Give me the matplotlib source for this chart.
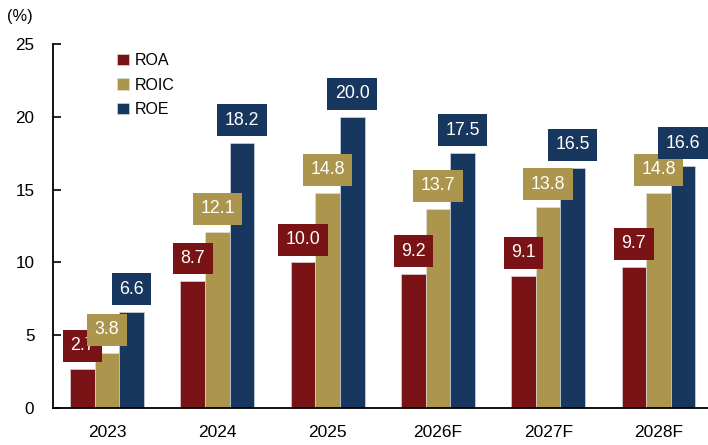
import matplotlib
matplotlib.use("Agg")
import matplotlib.pyplot as plt
import numpy as np

plt.rcParams['font.family'] = ['Liberation Sans', 'DejaVu Sans']

years = ["2023", "2024", "2025", "2026F", "2027F", "2028F"]
roa = [2.7, 8.7, 10.0, 9.2, 9.1, 9.7]
roic = [3.8, 12.1, 14.8, 13.7, 13.8, 14.8]
roe = [6.6, 18.2, 20.0, 17.5, 16.5, 16.6]
series_names = ["ROA", "ROIC", "ROE"]
colors = ["#7A1315", "#AC954D", "#17375E"]

fig = plt.figure(figsize=(7.08, 4.45), dpi=100)
ax = fig.add_axes([0.075, 0.083, 0.925, 0.818])

x = np.arange(len(years))
w = 0.223
for i, (vals, name, c) in enumerate(zip([roa, roic, roe], series_names, colors)):
    pos = x + (i - 1) * w
    ax.bar(pos, vals, width=w, color=c, label=name, edgecolor='#dfe3ea', linewidth=0.4)
    for px, v in zip(pos, vals):
        ax.annotate(f"{v:.1f}", (px, v), xytext=(0, 16.5), textcoords='offset points',
                    ha='center', va='center', color='white', fontsize=12.8,
                    bbox=dict(boxstyle='square,pad=0.42', fc=c, ec='none'))

ax.set_xlim(-0.49, 5.45)
ax.set_ylim(0, 25)
ax.set_yticks([0, 5, 10, 15, 20, 25])
ax.set_xticks(x)
ax.set_xticklabels(years)
ax.tick_params(axis='y', direction='in', length=6, width=1.2, pad=13.5, labelsize=12.3)
ax.tick_params(axis='x', length=0, pad=12.5, labelsize=12.5)
for s in ['top', 'right']:
    ax.spines[s].set_visible(False)
for s in ['left', 'bottom']:
    ax.spines[s].set_linewidth(1.3)

fig.text(20 / 708, 1 - 16 / 445, "(%)", ha='center', va='center', fontsize=11.8)

leg = ax.legend(loc='upper left', bbox_to_anchor=(117 / 708, 1 - 53 / 445),
                bbox_transform=fig.transFigure, frameon=False, fontsize=11.5,
                handlelength=0.75, handleheight=0.75, handletextpad=0.35,
                labelspacing=0.6, borderpad=0, borderaxespad=0)

fig.savefig("out.png", dpi=100)
